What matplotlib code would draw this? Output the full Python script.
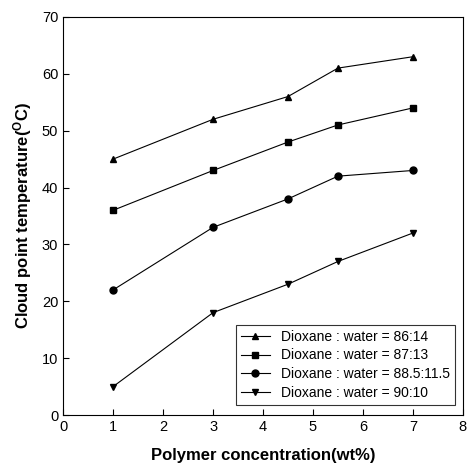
import matplotlib
matplotlib.use("Agg")
import matplotlib.pyplot as plt

plt.rcParams['font.family'] = ['Liberation Sans', 'DejaVu Sans']
plt.rcParams['mathtext.fontset'] = 'custom'
plt.rcParams['mathtext.rm'] = 'Liberation Sans'
plt.rcParams['mathtext.bf'] = 'Liberation Sans:bold'

x = [1, 3, 4.5, 5.5, 7]
s1 = [45, 52, 56, 61, 63]
s2 = [36, 43, 48, 51, 54]
s3 = [22, 33, 38, 42, 43]
s4 = [5, 18, 23, 27, 32]
labels = ["Dioxane : water = 86:14", "Dioxane : water = 87:13",
          "Dioxane : water = 88.5:11.5", "Dioxane : water = 90:10"]
markers = ['^', 's', 'o', 'v']

fig = plt.figure(figsize=(4.68, 4.70), dpi=100)
ax = fig.add_axes([0.135, 0.117, 0.854, 0.847])
for y, m, lab in zip([s1, s2, s3, s4], markers, labels):
    ax.plot(x, y, color='black', linewidth=0.8, marker=m, markersize=5, label=lab)

ax.set_xlim(0, 8)
ax.set_ylim(0, 70)
ax.set_xticks(range(0, 9))
ax.set_yticks(range(0, 71, 10))
ax.tick_params(direction='in', length=4, labelsize=10.5, width=0.8)
for sp in ax.spines.values():
    sp.set_linewidth(0.8)
ax.set_xlabel('Polymer concentration(wt%)', fontsize=12, fontweight='bold', labelpad=10)
ax.set_ylabel(r'Cloud point temperature($\mathbf{^{O}}$C)', fontsize=12, fontweight='bold', labelpad=6)
leg = ax.legend(loc='lower right', fontsize=10, frameon=True, fancybox=False,
                edgecolor='black', handlelength=2.1, handletextpad=0.8,
                borderpad=0.35, labelspacing=0.35, borderaxespad=0,
                bbox_to_anchor=(0.98, 0.025))
leg.get_frame().set_linewidth(0.8)
fig.savefig('out.png', dpi=100)
